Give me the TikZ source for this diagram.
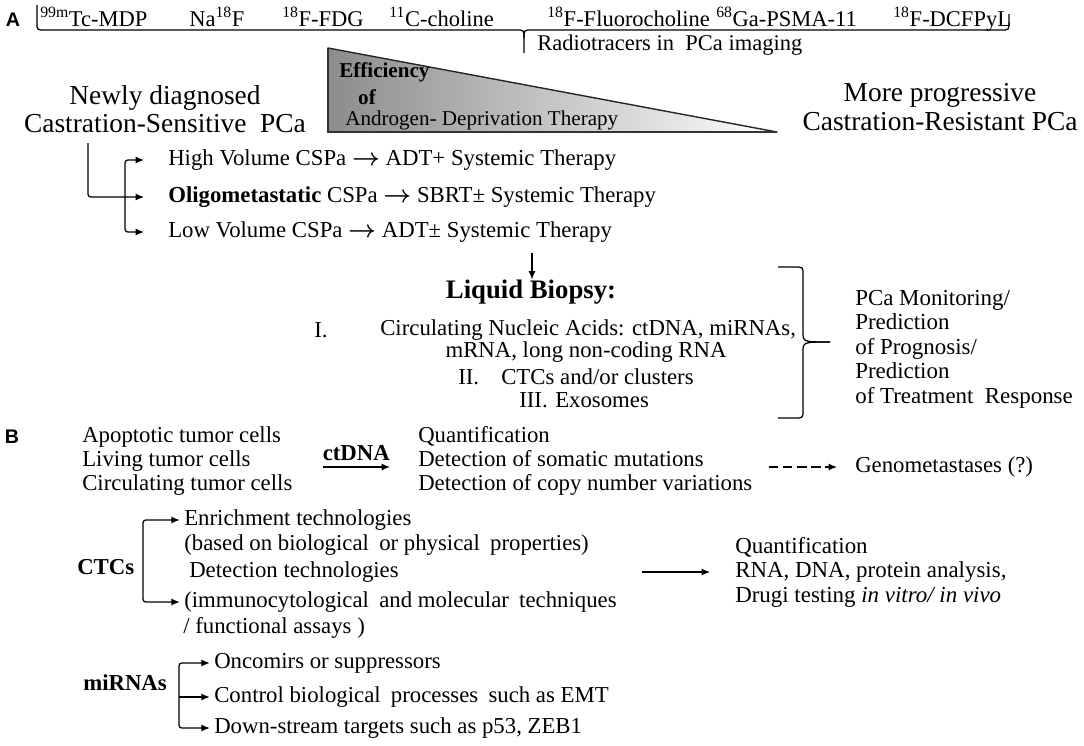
\documentclass[tikz,border=0pt]{standalone}
\usepackage{fontspec}
\usepackage{amsmath}
\setmainfont{Liberation Serif}
\newfontfamily\panelfont{Liberation Sans}
\usetikzlibrary{arrows.meta,calc,positioning}

\newcommand{\wsp}{\hspace{0.45em}}

\tikzset{
  panel/.style={inner sep=0pt, font=\panelfont\fontsize{14}{16}\selectfont\bfseries},
  tracer/.style={inner sep=0pt, anchor=base west, font=\fontsize{16}{18}\selectfont},
  head/.style={inner sep=0pt, align=center, font=\fontsize{19.5}{20}\selectfont},
  tri/.style={inner sep=0pt, font=\fontsize{15}{17}\selectfont},
  trib/.style={tri, font=\fontsize{15}{17}\selectfont\bfseries},
  body/.style={inner sep=0pt, anchor=west, font=\fontsize{16.2}{17}\selectfont},
  bodyb/.style={body, font=\fontsize{16.2}{17}\selectfont\bfseries},
  block/.style={body, align=left},
  arr/.style={-{Latex[length=6pt,width=5pt]}, line width=0.9pt},
  dasharr/.style={arr, dash pattern=on 7pt off 3pt},
}

\begin{document}
\begin{tikzpicture}[x=0.025cm,y=-0.025cm]
\useasboundingbox (0,0) rectangle (1084,745);

\node[panel] (pa) at (13,20) {A};
\node[tracer] (tc) at (40,26) {\textsuperscript{99m}Tc-MDP};
\node[tracer] (naf) at (189,26) {Na\textsuperscript{18}F};
\node[tracer] (fdg) at (282,26) {\textsuperscript{18}F-FDG};
\node[tracer] (cho) at (389,26) {\textsuperscript{11}C-choline};
\node[tracer] (fch) at (547,26) {\textsuperscript{18}F-Fluorocholine};
\node[tracer] (psma) at (716,26) {\textsuperscript{68}Ga-PSMA-11};
\node[tracer] (dcf) at (893,26) {\textsuperscript{18}F-DCFPyL};
\draw[line width=0.9pt] (37,5) -- (37,23) .. controls (37,30) .. (45,30) -- (516,30) .. controls (524,30) .. (524,38) -- (524,53);
\draw[line width=0.9pt] (524,38) .. controls (524,30) .. (532,30) -- (1001,30) .. controls (1009,30) .. (1009,22) -- (1009,14);
\node[tracer, anchor=west] (rad) at (537,45) {Radiotracers in\enspace PCa imaging};

\coordinate (tl) at (328,48);
\coordinate (bl) at (328,132);
\coordinate (tr) at (777,132);
\shade[left color=black!45, right color=white] (tl) -- (bl) -- (tr) -- cycle;
\draw[line width=1pt, black!85, line join=round] (tl) -- (bl) -- (tr) -- cycle;
\draw[line width=1.8pt, black!80] (tl) -- (bl) -- (tr);
\node[trib, anchor=west] (eff) at (339,72) {Efficiency};
\node[trib] (of) at (367,97) {of};
\node[tri, anchor=west] (adt) at (345,120) {Androgen- Deprivation Therapy};

\node[head] (csp) at (165,109) {Newly diagnosed\\Castration-Sensitive\enspace PCa};
\node[head] (crp) at (940,107) {More progressive\\Castration-Resistant PCa};

\node[body] (hv) at (168,160) {High Volume CSPa $\boldsymbol{\rightarrow}$ ADT+ Systemic Therapy};
\node[body] (oligo) at (168,197) {\textbf{Oligometastatic} CSPa $\boldsymbol{\rightarrow}$ SBRT\textpm{} Systemic Therapy};
\node[body] (lv) at (168,232) {Low Volume CSPa $\boldsymbol{\rightarrow}$ ADT\textpm{} Systemic Therapy};
\coordinate (splitA) at (88,143);
\coordinate (busA) at (125,197);
\draw[arr, rounded corners=2pt, shorten >=17pt] (splitA) |- (oligo.west);
\draw[arr, rounded corners=2pt, shorten >=17pt] (busA) |- (hv.west);
\draw[arr, rounded corners=2pt, shorten >=17pt] (busA) |- (lv.west);

\node[inner sep=0pt, font=\fontsize{19}{20}\selectfont\bfseries] (lb) at (531,292) {Liquid Biopsy:};
\coordinate (dtop) at (532,253);
\draw[arr] (dtop) -- (dtop |- lb.north);
\node[body] (n1) at (314,330) {I.};
\node[body] (c1) at (380,330) {Circulating Nucleic Acids: ctDNA, miRNAs,};
\node[body, anchor=center] (c2) at (586,352) {mRNA, long non-coding RNA};
\node[body] (n2) at (458,377) {II.};
\node[body] (c3) at (501,377) {CTCs and/or clusters};
\node[body] (n3) at (519,400) {III.};
\node[body] (c4) at (555,400) {Exosomes};
\draw[line width=0.9pt] (778,267) -- (795,267) .. controls (803,267) .. (803,275) -- (803,332) .. controls (803,342) .. (830,342);
\draw[line width=0.9pt] (830,342) .. controls (803,342) .. (803,352) -- (803,410) .. controls (803,418) .. (795,418) -- (778,418);
\node[block, font=\fontsize{16.3}{17.4}\selectfont] (mon) at (855,349) {PCa Monitoring/\\Prediction\\of Prognosis/\\Prediction\\of Treatment\enspace Response};

\node[panel] (pb) at (12,437) {B};
\node[block] (cells) at (82,461) {Apoptotic tumor cells\\Living tumor cells\\Circulating tumor cells};
\node[block] (outs) at (418,461) {Quantification\\Detection of somatic mutations\\Detection of copy number variations};
\draw[arr] ($(cells.east)+(30,6)$) -- ($(outs.west)+(-28,6)$) node[midway, above=1pt, font=\fontsize{16.2}{17}\selectfont\bfseries] (ctdna) {ctDNA};
\node[body] (gen) at (855,467) {Genometastases (?)};
\draw[dasharr] ($(outs.east |- gen.west)+(16,0)$) -- ($(gen.west)+(-18,0)$);

\node[bodyb] (ctc) at (77,567) {CTCs};
\node[body] (enr1) at (184,520) {Enrichment technologies};
\node[body] (enr2) at (184,545) {(based on biological\wsp or physical\wsp properties)};
\node[body] (det1) at (189,572) {Detection technologies};
\node[body] (det2) at (184,602) {(immunocytological\wsp and molecular\wsp techniques};
\node[body] (det3) at (183,628) {/ functional assays )};
\coordinate (busC) at (143,565);
\draw[arr, rounded corners=2pt, shorten >=3pt] (busC) |- (enr1.west);
\draw[arr, rounded corners=2pt, shorten >=3pt] (busC) |- (det2.west);
\node[block, font=\fontsize{16.3}{17.4}\selectfont] (qnt) at (735,572) {Quantification\\RNA, DNA, protein analysis,\\Drugi testing \textit{in vitro/\ in vivo}};
\coordinate (ctcout) at (642,572);
\draw[arr, shorten >=17.7pt] (ctcout) -- (qnt.west);

\node[bodyb] (mir) at (83,683) {miRNAs};
\node[body] (onc) at (214,663) {Oncomirs or suppressors};
\node[body] (ctl) at (214,697) {Control biological\wsp processes\wsp such as EMT};
\node[body] (dwn) at (214,728) {Down-stream targets such as p53, ZEB1};
\coordinate (busM) at (179,697);
\draw[arr, rounded corners=2pt, shorten >=3pt] (busM) |- (onc.west);
\draw[arr, shorten >=3pt] (busM) -- (ctl.west);
\draw[arr, rounded corners=2pt, shorten >=3pt] (busM) |- (dwn.west);
\end{tikzpicture}
\end{document}
